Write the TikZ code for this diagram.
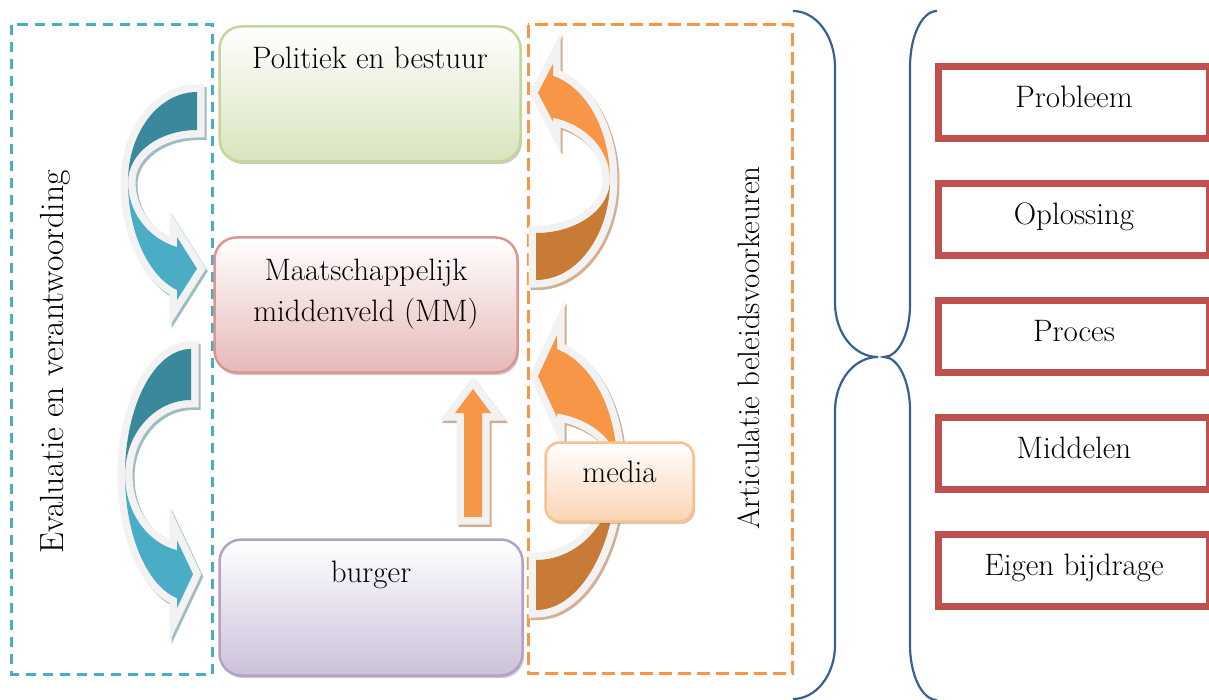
\documentclass[tikz,border=0pt]{standalone}
\usepackage{fontspec}
\usetikzlibrary{shadows}
\definecolor{cblue}{HTML}{4BACC6}
\definecolor{cteal}{HTML}{3A889C}
\definecolor{corange}{HTML}{F79646}
\definecolor{cbrown}{HTML}{C77B36}
\definecolor{outg}{HTML}{F2F2F2}
\definecolor{bshadow}{HTML}{9FBCC5}
\definecolor{oshadow}{HTML}{D2B093}
\definecolor{gborder}{HTML}{C3D69B}
\definecolor{gfill}{HTML}{D7E4BD}
\definecolor{rborder}{HTML}{D99694}
\definecolor{rfill}{HTML}{E6B9B8}
\definecolor{pborder}{HTML}{B3A2C7}
\definecolor{pfill}{HTML}{CCC1DA}
\definecolor{mborder}{HTML}{FAC090}
\definecolor{mfill}{HTML}{FBD4B4}
\definecolor{bracec}{HTML}{3A5F93}
\definecolor{redbox}{HTML}{C0504D}
% curved block arrow: #1 transform, #2 rx, #3 ry1, #4 ry2, #5 ry3, #6 ry4, #7 base angle, #8 style dark, #9 style light
\newcommand{\curvarr}[9]{%
  \begin{scope}[#1]
    \pgfmathsetmacro\cxb{#2*cos(#7)}%
    \pgfmathsetmacro\cyo{#5*sin(#7)}%
    \pgfmathsetmacro\cyi{#6*sin(#7)}%
    \pgfmathsetmacro\cyt{(\cyo+\aEo+\cyi-\aEi)/2}%
    \path[#8] (0,-#3) arc[start angle=270,end angle=180,x radius=#2,y radius=#3]
      arc[start angle=180,end angle=270,x radius=#2,y radius=#4] -- cycle;
    \path[#9] (-#2,0) arc[start angle=180,end angle=#7,x radius=#2,y radius=#5]
      -- (\cxb,\cyo+\aEo) -- (\cxb+\aL,\cyt) -- (\cxb,\cyi-\aEi) -- (\cxb,\cyi)
      arc[start angle=#7,end angle=180,x radius=#2,y radius=#6] -- cycle;
  \end{scope}}
\def\aEo{10}\def\aEi{10}\def\aL{20}
\begin{document}
\begin{tikzpicture}[x=1pt,y=-1pt,
  txt/.style={font=\fontsize{31}{36}\selectfont, inner sep=0pt, anchor=base},
  gbox/.style n args={3}{draw=#1, top color=white, bottom color=#2, line width=2.5pt,
     rounded corners=#3, drop shadow={shadow xshift=1.5pt, shadow yshift=-2.5pt, fill=black!60, opacity=0.35}},
  rbox/.style={draw=redbox, line width=7pt, fill=white, minimum width=270.5pt, minimum height=72pt, inner sep=0pt},
  outl/.style={preaction={draw=outg, line width=15pt, line join=miter}, fill=#1},
  shd/.style={fill=#1, draw=#1, line width=15pt, line join=miter},
  brace/.style={draw=bracec, line width=2.2pt}]
\useasboundingbox (0,0) rectangle (1209,700);

% dashed frames
\draw[cblue, line width=3pt, dash pattern=on 10pt off 7pt] (11.5,25) rectangle (212,674);
\draw[corange, line width=3pt, dash pattern=on 13pt off 6pt] (528,25) rectangle (792.5,673);

% braces
\draw[brace] (793,11) .. controls (816,11) and (835,36) .. (835,67) -- (835,303)
  .. controls (835,333) and (854,357) .. (878,357)
  .. controls (854,357) and (835,381) .. (835,411) -- (835,645)
  .. controls (835,675) and (816,699) .. (793,699);
\draw[brace] (937,11) .. controls (922,11) and (910,36) .. (910,67) -- (910,305)
  .. controls (910,334) and (898,357) .. (884,357)
  .. controls (898,357) and (910,381) .. (910,410) -- (910,645)
  .. controls (910,675) and (922,700) .. (937,700);

% right list
\node[rbox] (b1) at (1073.75,102.5) {};
\node[rbox] (b2) at (1073.75,219.5) {};
\node[rbox] (b3) at (1073.75,336.5) {};
\node[rbox] (b4) at (1073.75,453.5) {};
\node[rbox] (b5) at (1073.75,570.5) {};
\node[txt] (t1) at (1074,107.5) {Probleem};
\node[txt] (t2) at (1074,224.5) {Oplossing};
\node[txt] (t3) at (1074,341.5) {Proces};
\node[txt] (t4) at (1074,458.5) {Middelen};
\node[txt] (t5) at (1074,575.5) {Eigen bijdrage};

% rotated labels
\node[txt, font=\fontsize{33.5}{38}\selectfont, rotate=90, anchor=center] (lev) at (55,362) {Evaluatie en verantwoording};
\node[txt, rotate=90, anchor=center] (lart) at (749,348) {Articulatie beleidsvoorkeuren};

% curved arrows: shadows
\def\aEo{10}\def\aEi{10}\def\aL{20}
\curvarr{shift={(2,2.5)},shift={(197,182)}}{69}{90}{52}{113}{68}{106.85}{shd=bshadow}{shd=bshadow}
\def\aL{16}
\curvarr{shift={(2,2.5)},shift={(191,475)}}{66}{126}{75}{126}{77}{102.24}{shd=bshadow}{shd=bshadow}
\def\aEo{12}\def\aEi{4}\def\aL{15}
\curvarr{shift={(2,2.5)},shift={(536,180)},rotate=180}{74}{100}{53}{107}{64}{103.28}{shd=oshadow}{shd=oshadow}
\def\aEo{14}\def\aEi{4}\def\aL{19}
\curvarr{shift={(2,2.5)},shift={(536,465)},rotate=180}{81}{145}{95}{120}{53.5}{105.03}{shd=oshadow}{shd=oshadow}
\path[shd=oshadow, shift={(2,2.5)}] (464,517) -- (464,413) -- (455,413) -- (473,389) -- (491,413) -- (482,413) -- (482,517) -- cycle;

% curved arrows
\def\aEo{10}\def\aEi{10}\def\aL{20}
\curvarr{shift={(197,182)}}{69}{90}{52}{113}{68}{106.85}{outl=cteal}{outl=cblue}
\def\aL{16}
\curvarr{shift={(191,475)}}{66}{126}{75}{126}{77}{102.24}{outl=cteal}{outl=cblue}
\def\aEo{12}\def\aEi{4}\def\aL{15}
\curvarr{shift={(536,180)},rotate=180}{74}{100}{53}{107}{64}{103.28}{outl=cbrown}{outl=corange}
\def\aEo{14}\def\aEi{4}\def\aL{19}
\curvarr{shift={(536,465)},rotate=180}{81}{145}{95}{120}{53.5}{105.03}{outl=cbrown}{outl=corange}

% straight up arrow
\path[outl=corange] (464,517) -- (464,413) -- (455,413) -- (473,389) -- (491,413) -- (482,413) -- (482,517) -- cycle;

% main boxes
\node[gbox={gborder}{gfill}{22pt}, minimum width=301pt, minimum height=135pt] (pol) at (370,94) {};
\node[gbox={rborder}{rfill}{22pt}, minimum width=303pt, minimum height=135pt] (mm) at (366,305) {};
\node[gbox={pborder}{pfill}{22pt}, minimum width=303pt, minimum height=136pt] (bur) at (371,607.5) {};
\node[gbox={mborder}{mfill}{14pt}, minimum width=148pt, minimum height=79pt] (med) at (619.5,482) {};
\node[txt] (tpol) at (370,69) {Politiek en bestuur};
\node[txt] (tmm1) at (366,281) {Maatschappelijk};
\node[txt] (tmm2) at (366,322) {middenveld (MM)};
\node[txt] (tbur) at (371,582) {burger};
\node[txt] (tmed) at (619.5,482) {media};
\end{tikzpicture}
\end{document}
